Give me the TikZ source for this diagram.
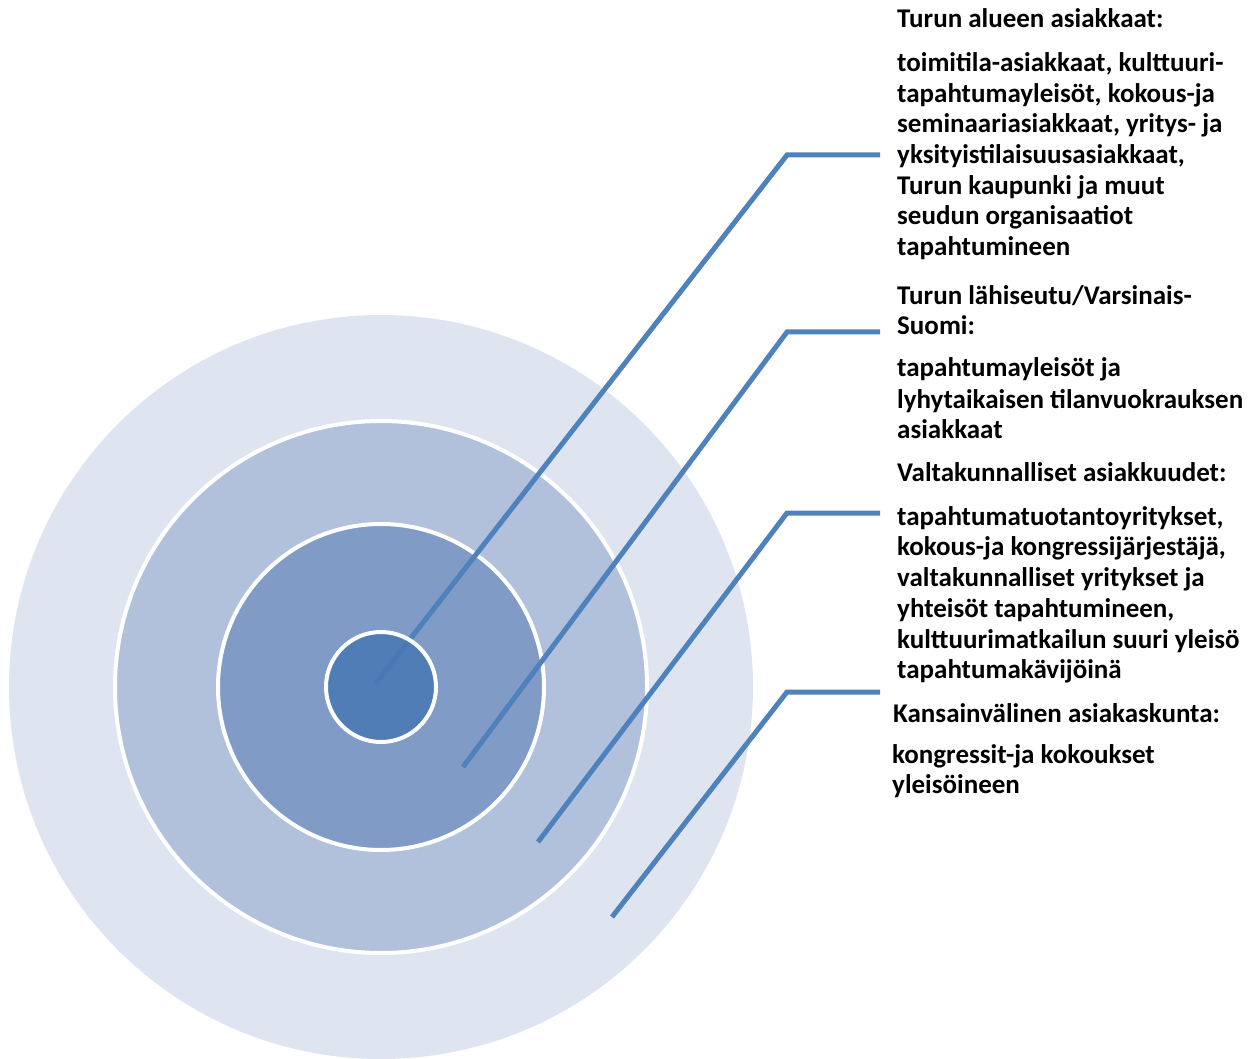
\documentclass[tikz,border=0pt]{standalone}
\usepackage{fontspec}
\setmainfont{Carlito}
\definecolor{ringA}{HTML}{DFE5F0}
\definecolor{ringB}{HTML}{B1C1DC}
\definecolor{ringC}{HTML}{7F9BC6}
\definecolor{ringD}{HTML}{4878B4}
\definecolor{conn}{HTML}{4F81BD}
\tikzset{
  ring/.style={draw=white, line width=4pt},
  connector/.style={draw=conn, line width=5pt, line join=miter},
  lbl/.style={anchor=base west, inner sep=0pt, font=\fontsize{27}{30}\selectfont\bfseries}
}
\begin{document}
\begin{tikzpicture}[x=1pt,y=-1pt]
\useasboundingbox (0,0) rectangle (1259,1059);
\coordinate (c) at (381,687);
\node[ring, circle, fill=ringA, draw=none, minimum size=744pt, inner sep=0pt] (r1) at (c) {};
\node[ring, circle, fill=ringB, minimum size=532pt, inner sep=0pt] (r2) at (c) {};
\node[ring, circle, fill=ringC, minimum size=326pt, inner sep=0pt] (r3) at (c) {};
% connectors
\coordinate (s1) at (376,683); \coordinate (k1) at (787,155); \coordinate (e1) at (880,155);
\coordinate (s2) at (463,767); \coordinate (k2) at (787,332); \coordinate (e2) at (880,332);
\coordinate (s3) at (538,842); \coordinate (k3) at (787,513); \coordinate (e3) at (880,513);
\coordinate (s4) at (612,917); \coordinate (k4) at (787,692); \coordinate (e4) at (880,692);
\draw[connector] (s1) -- (k1) -- (e1);
\draw[connector] (s2) -- (k2) -- (e2);
\draw[connector] (s3) -- (k3) -- (e3);
\draw[connector] (s4) -- (k4) -- (e4);
\node[circle, fill=ringD, fill opacity=0.85, minimum size=110pt, inner sep=0pt] (r4f) at (c) {};
\node[ring, circle, minimum size=110pt, inner sep=0pt] (r4) at (c) {};
% texts
\node[lbl] (a0) at (897,28) {Turun alueen asiakkaat:};
\node[lbl] (a1) at (897,72) {toimitila-asiakkaat, kulttuuri-};
\node[lbl] (a2) at (897,103) {tapahtumayleisöt, kokous-ja};
\node[lbl] (a3) at (897,133) {seminaariasiakkaat, yritys- ja};
\node[lbl] (a4) at (897,164) {yksityistilaisuusasiakkaat,};
\node[lbl] (a5) at (897,195) {Turun kaupunki ja muut};
\node[lbl] (a6) at (897,225) {seudun organisaatiot};
\node[lbl] (a7) at (897,256) {tapahtumineen};
\node[lbl] (b0) at (897,305) {Turun lähiseutu/Varsinais-};
\node[lbl] (b1) at (897,335) {Suomi:};
\node[lbl] (b2) at (897,377) {tapahtumayleisöt ja};
\node[lbl] (b3) at (897,408) {lyhytaikaisen tilanvuokrauksen};
\node[lbl] (b4) at (897,438) {asiakkaat};
\node[lbl] (c0) at (897,481) {Valtakunnalliset asiakkuudet:};
\node[lbl] (c1) at (897,525) {tapahtumatuotantoyritykset,};
\node[lbl] (c2) at (897,555) {kokous-ja kongressijärjestäjä,};
\node[lbl] (c3) at (897,586) {valtakunnalliset yritykset ja};
\node[lbl] (c4) at (897,617) {yhteisöt tapahtumineen,};
\node[lbl] (c5) at (897,648) {kulttuurimatkailun suuri yleisö};
\node[lbl] (c6) at (897,678) {tapahtumakävijöinä};
\node[lbl] (d0) at (893,722) {Kansainvälinen asiakaskunta:};
\node[lbl] (d1) at (892,763) {kongressit-ja kokoukset};
\node[lbl] (d2) at (892,793) {yleisöineen};
\end{tikzpicture}
\end{document}
